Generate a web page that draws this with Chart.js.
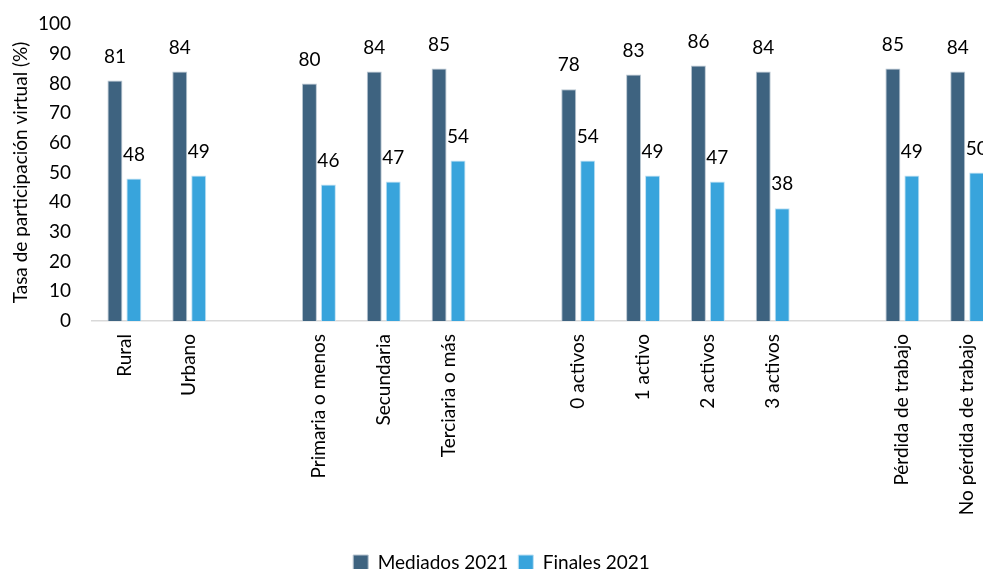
<!DOCTYPE html>
<html>
<head>
<meta charset="utf-8">
<script src="https://cdn.jsdelivr.net/npm/chart.js@4.4.1/dist/chart.umd.min.js"></script>
<style>
  html, body { margin: 0; padding: 0; background: #fff; overflow: hidden; }
  #wrap { width: 983px; height: 569px; overflow: hidden; }
</style>
</head>
<body>
<div id="wrap">
  <canvas id="chart" width="1003" height="582"></canvas>
</div>
<script>
// categorias (los '' son huecos entre grupos)
const categories = ['Rural', 'Urbano', '', 'Primaria o menos', 'Secundaria', 'Terciaria o más', '',
  '0 activos', '1 activo', '2 activos', '3 activos', '', 'Pérdida de trabajo', 'No pérdida de trabajo']

const mediados2021 = [81, 84, null, 80, 84, 85, null, 78, 83, 86, 84, null, 85, 84]
const finales2021 = [48, 49, null, 46, 47, 54, null, 54, 49, 47, 38, null, 49, 50]

const yTicks = [0, 10, 20, 30, 40, 50, 60, 70, 80, 90, 100]

const FONT = 'Lato'
const FS = 19

// etiquetas de valor encima de cada barra
const valueLabels = {
  id: 'valueLabels',
  afterDatasetsDraw(chart) {
    const ctx = chart.ctx
    ctx.save()
    ctx.font = FS + 'px ' + FONT
    ctx.fillStyle = '#000'
    ctx.textAlign = 'center'
    ctx.textBaseline = 'middle'
    chart.data.datasets.forEach((ds, i) => {
      chart.getDatasetMeta(i).data.forEach((bar, j) => {
        const v = ds.data[j]
        if (v == null) return
        ctx.fillText(v, bar.x, bar.y - 24)
      })
    })
    ctx.restore()
  }
}

new Chart(document.getElementById('chart'), {
  type: 'bar',
  data: {
    labels: categories,
    datasets: [
      {
        label: 'Mediados 2021',
        data: mediados2021,
        backgroundColor: '#3E6380',
        borderColor: '#b9c6d1',
        borderWidth: 1,
        categoryPercentage: 0.585,
        barPercentage: 0.79
      },
      {
        label: 'Finales 2021',
        data: finales2021,
        backgroundColor: '#38A4DC',
        borderColor: '#bfe1f4',
        borderWidth: 1,
        categoryPercentage: 0.585,
        barPercentage: 0.79
      }
    ]
  },
  options: {
    responsive: false,
    animation: false,
    devicePixelRatio: 1,
    layout: { padding: { top: 0, left: 0, right: 0, bottom: 0 } },
    plugins: {
      tooltip: { enabled: false },
      legend: {
        position: 'bottom',
        labels: {
          font: { family: FONT, size: FS },
          color: '#000',
          boxWidth: 15,
          boxHeight: 15,
          padding: 10
        }
      }
    },
    scales: {
      x: {
        grid: { display: false, drawTicks: false },
        border: { display: true, color: '#D9D9D9', width: 1.5 },
        ticks: {
          autoSkip: false,
          maxRotation: 90,
          minRotation: 90,
          padding: 13,
          color: '#000',
          font: { family: FONT, size: FS }
        },
        afterFit(scale) { scale.height = 222 }
      },
      y: {
        min: 0,
        max: 100,
        grid: { display: false, drawTicks: false },
        border: { display: false },
        afterBuildTicks(scale) { scale.ticks = yTicks.map(v => ({ value: v })) },
        ticks: {
          padding: 21,
          color: '#000',
          font: { family: FONT, size: FS }
        },
        title: {
          display: true,
          text: 'Tasa de participación virtual (%)',
          color: '#000',
          font: { family: FONT, size: FS },
          padding: { top: 9, bottom: 4 }
        },
        afterFit(scale) {
          scale.width = 92
          scale.paddingTop = 24
        }
      }
    }
  },
  plugins: [valueLabels]
})
</script>
</body>
</html>
